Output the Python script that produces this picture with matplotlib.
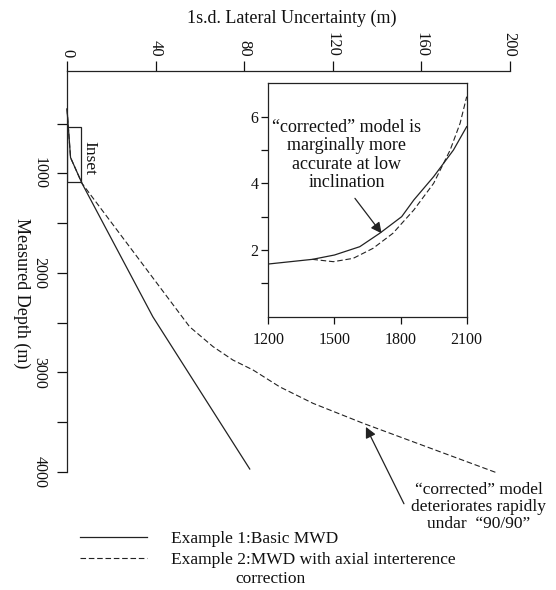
import matplotlib
matplotlib.use("Agg")
import matplotlib.pyplot as plt
from matplotlib.patches import Rectangle

plt.rcParams['font.family'] = ['Liberation Serif', 'DejaVu Serif']

# main chart: lateral uncertainty (m) against measured depth (m)
basic_unc = [0, 1.6, 6.8, 38.8, 82.6]
basic_md = [350, 840, 1100, 2440, 3970]
corr_unc = [0, 1.6, 6.8, 55.4, 66.0, 75.0, 84.1, 96.2, 111.2, 133.8, 194.5]
corr_md = [350, 840, 1100, 2540, 2740, 2875, 2975, 3145, 3310, 3510, 4010]

# inset: measured depth (m) against uncertainty (m)
inset_basic_md = [1200, 1400, 1500, 1615, 1705, 1805, 1860, 1950, 2040, 2100]
inset_basic_unc = [1.58, 1.72, 1.85, 2.1, 2.5, 3.0, 3.5, 4.2, 5.0, 5.7]
inset_corr_md = [1400, 1495, 1585, 1675, 1765, 1860, 1950, 2025, 2070, 2100]
inset_corr_unc = [1.72, 1.65, 1.75, 2.05, 2.5, 3.2, 4.0, 5.0, 5.8, 6.6]

x_ticks = [0, 40, 80, 120, 160, 200]
y_ticks = [500, 1000, 1500, 2000, 2500, 3000, 3500, 4000]
y_labels = ['', '1000', '', '2000', '', '3000', '', '4000']
inset_x_ticks = [1200, 1500, 1800, 2100]
inset_y_ticks = [1, 2, 3, 4, 5, 6]
inset_y_labels = ['', '2', '', '4', '', '6']

line_c = '#222222'
text_c = '#111111'

fig = plt.figure(figsize=(5.56, 5.90), dpi=100)
ax = fig.add_axes([67 / 556, 1 - 472 / 590, 442.5 / 556, 401 / 590])

l1, = ax.plot(basic_unc, basic_md, color=line_c, lw=0.9, clip_on=False)
l2, = ax.plot(corr_unc, corr_md, color=line_c, lw=0.8, ls=(0, (5, 2.5)), clip_on=False)

# box marking the inset region
ax.add_patch(Rectangle((0, 530), 6.5, 560, fill=False, ec=line_c, lw=0.9))
ax.text(9.9, 840, 'Inset', rotation=-90, ha='center', va='center', fontsize=12.5, color=text_c)

ax.set_xlim(0, 200)
ax.set_ylim(4000, -30)
ax.xaxis.tick_top()
ax.set_xticks(x_ticks)
ax.set_xticklabels([str(v) for v in x_ticks], rotation=-90)
ax.set_yticks(y_ticks)
ax.set_yticklabels(y_labels, rotation=-90, va='center')
ax.tick_params(axis='x', direction='out', length=7, width=0.9, pad=3, labelsize=12, colors=text_c)
ax.tick_params(axis='y', direction='out', length=7, width=0.9, pad=7, labelsize=11.5, colors=text_c)
for s in ['right', 'bottom']:
    ax.spines[s].set_visible(False)
for s in ['left', 'top']:
    ax.spines[s].set_linewidth(0.9)
    ax.spines[s].set_color(line_c)

ax.set_xlabel('1s.d. Lateral Uncertainty (m)', fontsize=13, color=text_c, va='center')
ax.xaxis.set_label_position('top')
ax.xaxis.set_label_coords(0.507, 1.12)
ax.set_ylabel('Measured Depth (m)', fontsize=13, color=text_c, rotation=-90, va='center', ha='center')
ax.yaxis.set_label_coords(-0.103, 0.447)

ax.annotate('', xy=(135.1, 3547), xytext=(152.3, 4319), annotation_clip=False,
            arrowprops=dict(arrowstyle='-|>', color=line_c, lw=0.9, mutation_scale=16,
                            shrinkA=0, shrinkB=0))
ax.text(186.2, 4354, '“corrected” model\ndeteriorates rapidly\nundar  “90/90”', ha='center', va='center',
        fontsize=12.5, color=text_c, linespacing=1.1, clip_on=False)

# inset
axi = fig.add_axes([268.3 / 556, 1 - 316.7 / 590, 198.4 / 556, 233.4 / 590])
axi.plot(inset_basic_md, inset_basic_unc, color=line_c, lw=0.9)
axi.plot(inset_corr_md, inset_corr_unc, color=line_c, lw=0.8, ls=(0, (5, 2.5)))
axi.set_xlim(1200, 2100)
axi.set_ylim(0, 7)
axi.set_xticks(inset_x_ticks)
axi.set_yticks(inset_y_ticks)
axi.set_yticklabels(inset_y_labels)
axi.tick_params(direction='out', length=5, width=0.9, labelsize=11.5, colors=text_c)
axi.tick_params(axis='x', pad=6)
axi.tick_params(axis='y', pad=2)
for s in axi.spines.values():
    s.set_linewidth(0.9)
    s.set_color(line_c)
axi.annotate('', xy=(1714, 2.5), xytext=(1593, 3.55),
             arrowprops=dict(arrowstyle='-|>', color=line_c, lw=0.9, mutation_scale=16,
                             shrinkA=0, shrinkB=0))
axi.text(1557, 4.85, '“corrected” model is\nmarginally more\naccurate at low\ninclination', ha='center',
         va='center', fontsize=13, color=text_c, linespacing=1.1)

# legend
fig.legend([l1, l2], ['Example 1:Basic MWD', 'Example 2:MWD with axial interterence'],
           loc='upper left', bbox_to_anchor=(80 / 556, 1 - 531 / 590), frameon=False,
           fontsize=12.5, handlelength=3.85, handletextpad=1.4, labelspacing=0.25,
           borderaxespad=0, borderpad=0, labelcolor=text_c)
fig.text(270 / 556, 1 - 579 / 590, 'correction', ha='center', va='center', fontsize=12.5, color=text_c)

fig.savefig('out.png', dpi=100)
